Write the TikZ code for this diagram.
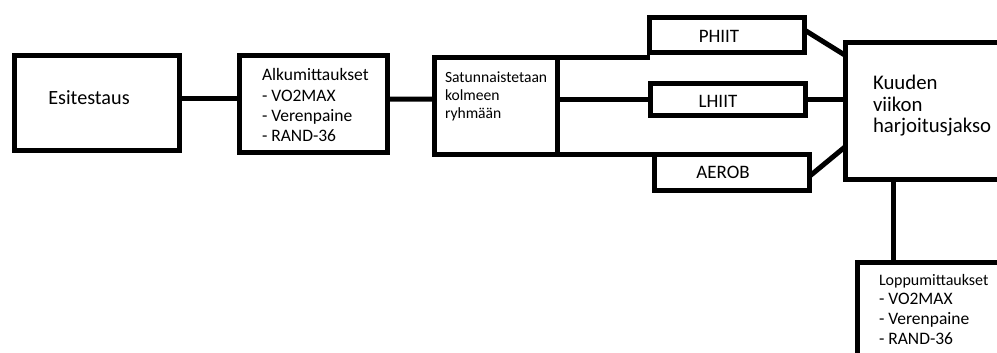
\documentclass[tikz,border=0pt]{standalone}
\usepackage{fontspec}
\setmainfont{Carlito}
\begin{document}
\begin{tikzpicture}[x=1pt,y=-1pt,
  box/.style={draw=black,line width=5pt,rectangle,inner sep=0pt,outer sep=0pt},
  conn/.style={draw=black,line width=5pt},
  lbl/.style={inner sep=0pt,outer sep=0pt,align=left}]
\useasboundingbox (0,0) rectangle (997,353);
\clip (0,0) rectangle (997,353);
\fill[white] (0,0) rectangle (997,353);
% boxes
\node[box,minimum width=165pt,minimum height=95pt] (esi) at (97,103) {};
\node[box,minimum width=148pt,minimum height=97pt] (alku) at (313.5,104) {};
\node[box,minimum width=123pt,minimum height=96.5pt] (sat) at (496,105.75) {};
\node[box,minimum width=155pt,minimum height=35pt] (phiit) at (727,35) {};
\node[box,minimum width=155pt,minimum height=32pt] (lhiit) at (728,100) {};
\node[box,minimum width=155pt,minimum height=36.5pt] (aerob) at (732,172.25) {};
\node[box,minimum width=175pt,minimum height=137pt] (kuu) at (933,111) {};
\node[box,minimum width=163pt,minimum height=118pt] (loppu) at (939,321) {};
% texts
\node[lbl,font=\fontsize{20.2}{22}\selectfont,anchor=base] (esiT) at (89,104) {Esitestaus};
\node[lbl,font=\fontsize{17.5}{20.4}\selectfont,anchor=north west] (alkuT) at (262,68.5) {Alkumittaukset\\- VO2MAX\\- Verenpaine\\- RAND-36};
\node[lbl,font=\fontsize{15.6}{18}\selectfont,anchor=north west] (satT) at (445,72) {Satunnaistetaan\\kolmeen\\ryhmään};
\node[lbl,font=\fontsize{19}{20}\selectfont,anchor=base] (phiitT) at (719,43) {PHIIT};
\node[lbl,font=\fontsize{19}{20}\selectfont,anchor=base] (lhiitT) at (718,108) {LHIIT};
\node[lbl,font=\fontsize{19}{20}\selectfont,anchor=base] (aerobT) at (723,178) {AEROB};
\node[lbl,font=\fontsize{20.8}{21.5}\selectfont,anchor=north west] (kuuT) at (873,75.5) {Kuuden\\viikon\\harjoitusjakso};
\node[lbl,font=\fontsize{16}{20}\selectfont,anchor=base west] (loppuT) at (879,285) {Loppumittaukset};
\node[lbl,font=\fontsize{17.5}{20}\selectfont,anchor=north west] (loppuL) at (879,293.5) {- VO2MAX\\- Verenpaine\\- RAND-36};
% connectors
\draw[conn] ([yshift=4pt]esi.east) -- ([yshift=5pt]alku.west);
\draw[conn] ([yshift=5pt]alku.east) -- ([yshift=6.5pt]sat.west);
\draw[conn] (sat.north east) -- (sat.north east -| phiit.west);
\draw[conn] (lhiit.west -| sat.east) -- (lhiit.west);
\draw[conn] (sat.south east) -- (aerob.north east);
\draw[conn] ([yshift=5pt]phiit.east) -- ([yshift=-13pt]kuu.north west);
\draw[conn] (lhiit.east) -- (lhiit.east -| kuu.west);
\draw[conn] ([yshift=-4pt]aerob.east) -- ([yshift=33pt]kuu.south west);
\draw[conn] ([xshift=48pt]kuu.south west) -- ([xshift=36pt]loppu.north west);
\end{tikzpicture}
\end{document}
